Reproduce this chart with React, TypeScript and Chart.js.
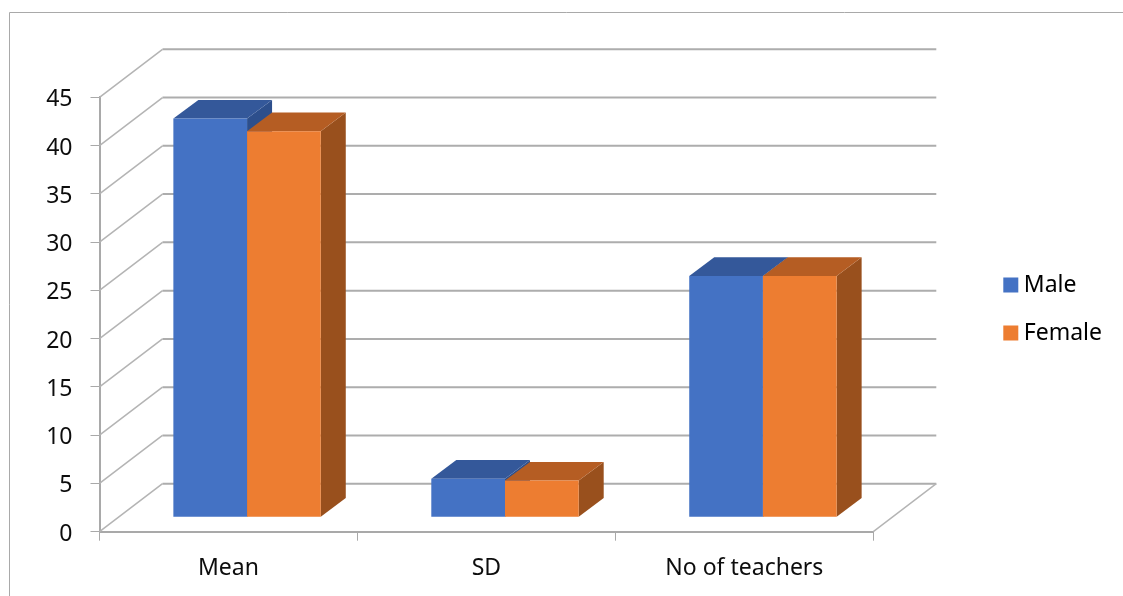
import React, { useEffect, useRef } from "react";
import { Chart, registerables } from "chart.js";

Chart.register(...registerables);

const categories = ["Mean", "SD", "No of teachers"];
const maleValues = [41.3, 4.0, 25];
const femaleValues = [40, 3.8, 25];
const valueTicksMax = 45;
const valueTicksStep = 5;

const AXIS_GRAY = "#a9a9a9";
const FONT = { family: "Noto Sans", size: 23 };
const TEXT_COLOR = "#0d0d0d";

// Oblique projection of the 3D box: wall depth and the bars' position inside it.
const WALL_DX = 63;
const WALL_DY = -48;
const BAR_SHIFT_X = 18.6;
const BAR_SHIFT_Y = -14.4;
const BAR_DX = 25;
const BAR_DY = -18.7;

const FACE_COLORS = [
  { top: "#34589a", side: "#2d4f8c" },
  { top: "#b55d23", side: "#99501d" },
];

const threeDimensions = {
  id: "threeDimensions",
  beforeDraw(chart: any) {
    // Outer frame of the chart object, open towards the page edges.
    const { ctx, width, height } = chart;
    ctx.save();
    ctx.strokeStyle = AXIS_GRAY;
    ctx.lineWidth = 1;
    ctx.beginPath();
    ctx.moveTo(9.5, height);
    ctx.lineTo(9.5, 12.5);
    ctx.lineTo(width, 12.5);
    ctx.stroke();
    ctx.restore();
  },
  afterLayout(chart: any) {
    // Seat the legend beside the plot, centred on its two entries.
    const legend = chart.legend;
    const pad = legend.options.labels.padding;
    legend.left = 1009.3 - pad;
    legend.right = 1123;
    legend.top = 214;
    legend.bottom = 404;
  },
  beforeDatasetsDraw(chart: any) {
    const { ctx, scales, chartArea } = chart;
    const { left, right } = chartArea;
    ctx.save();
    ctx.lineCap = "butt";
    scales.y.ticks.forEach((tick: any) => {
      const y = scales.y.getPixelForValue(tick.value);
      ctx.strokeStyle = "#b4b4b4";
      ctx.lineWidth = 1.5;
      ctx.beginPath();
      ctx.moveTo(left, y);
      ctx.lineTo(left + WALL_DX, y + WALL_DY);
      ctx.stroke();
      ctx.strokeStyle = "#adadad";
      ctx.lineWidth = 2;
      ctx.beginPath();
      ctx.moveTo(left + WALL_DX, y + WALL_DY);
      ctx.lineTo(right + WALL_DX, y + WALL_DY);
      ctx.stroke();
    });
    const y0 = scales.y.getPixelForValue(0);
    ctx.strokeStyle = "#b4b4b4";
    ctx.lineWidth = 1.5;
    ctx.beginPath();
    ctx.moveTo(right, y0);
    ctx.lineTo(right + WALL_DX, y0 + WALL_DY);
    ctx.stroke();
    ctx.restore();

    // The bars sit on a plane inside the box; the series are painted left to
    // right so that each one's front covers the side of its neighbour.
    ctx.save();
    ctx.translate(BAR_SHIFT_X, BAR_SHIFT_Y);
    chart.getSortedVisibleDatasetMetas().forEach((meta: any) => {
      const faces = FACE_COLORS[meta.index];
      meta.data.forEach((bar: any) => {
        const { x, y, base, width } = bar.getProps(["x", "y", "base", "width"]);
        const l = x - width / 2;
        const r = x + width / 2;
        ctx.fillStyle = faces.side;
        ctx.beginPath();
        ctx.moveTo(r, y);
        ctx.lineTo(r + BAR_DX, y + BAR_DY);
        ctx.lineTo(r + BAR_DX, base + BAR_DY);
        ctx.lineTo(r, base);
        ctx.closePath();
        ctx.fill();
        ctx.fillStyle = faces.top;
        ctx.beginPath();
        ctx.moveTo(l, y);
        ctx.lineTo(l + BAR_DX, y + BAR_DY);
        ctx.lineTo(r + BAR_DX, y + BAR_DY);
        ctx.lineTo(r, y);
        ctx.closePath();
        ctx.fill();
      });
      meta.controller.draw();
    });
    ctx.restore();
    return false;
  },
};

export default function App() {
  const canvasRef = useRef<HTMLCanvasElement | null>(null);

  useEffect(() => {
    const chart = new Chart(canvasRef.current as HTMLCanvasElement, {
      type: "bar",
      data: {
        labels: categories,
        datasets: [
          { label: "Male", data: maleValues, backgroundColor: "#4472c4", borderWidth: 0 },
          { label: "Female", data: femaleValues, backgroundColor: "#ed7d31", borderWidth: 0 },
        ],
      },
      plugins: [threeDimensions],
      options: {
        responsive: false,
        animation: false,
        layout: { padding: { left: 0, top: 97.3, right: 189.7, bottom: 0 } },
        datasets: { bar: { barPercentage: 1, categoryPercentage: 0.5715 } },
        plugins: {
          tooltip: { enabled: false },
          legend: {
            position: "right",
            maxWidth: 60,
            labels: {
              font: FONT,
              color: TEXT_COLOR,
              boxWidth: 3,
              boxHeight: 3,
              padding: 25,
              generateLabels: (chart: any) =>
                chart.data.datasets.map((d: any, i: number) => ({
                  text: d.label,
                  fillStyle: d.backgroundColor,
                  strokeStyle: d.backgroundColor,
                  lineWidth: 12,
                  datasetIndex: i,
                })),
            },
          },
        },
        scales: {
          x: {
            offset: true,
            afterFit: (scale: any) => {
              scale.height = 596 - 531.7;
            },
            grid: {
              offset: true,
              drawOnChartArea: false,
              color: AXIS_GRAY,
              lineWidth: 1,
              tickLength: 9,
            },
            border: { color: AXIS_GRAY, width: 2 },
            ticks: { font: FONT, color: TEXT_COLOR, padding: 13.5, maxRotation: 0 },
          },
          y: {
            min: 0,
            max: valueTicksMax,
            afterFit: (scale: any) => {
              scale.width = 99.5;
            },
            grid: {
              drawOnChartArea: false,
              color: AXIS_GRAY,
              lineWidth: 1,
              tickLength: 9,
            },
            border: { color: AXIS_GRAY, width: 2 },
            ticks: {
              stepSize: valueTicksStep,
              font: FONT,
              color: TEXT_COLOR,
              padding: 18,
              labelOffset: 2.5,
            },
          },
        },
      },
    } as any);
    return () => chart.destroy();
  }, []);

  return (
    <div style={{ position: "fixed", left: 0, top: 0, width: 1123, height: 596, background: "#ffffff" }}>
      <canvas ref={canvasRef} width={1123} height={596} style={{ display: "block" }} />
    </div>
  );
}
